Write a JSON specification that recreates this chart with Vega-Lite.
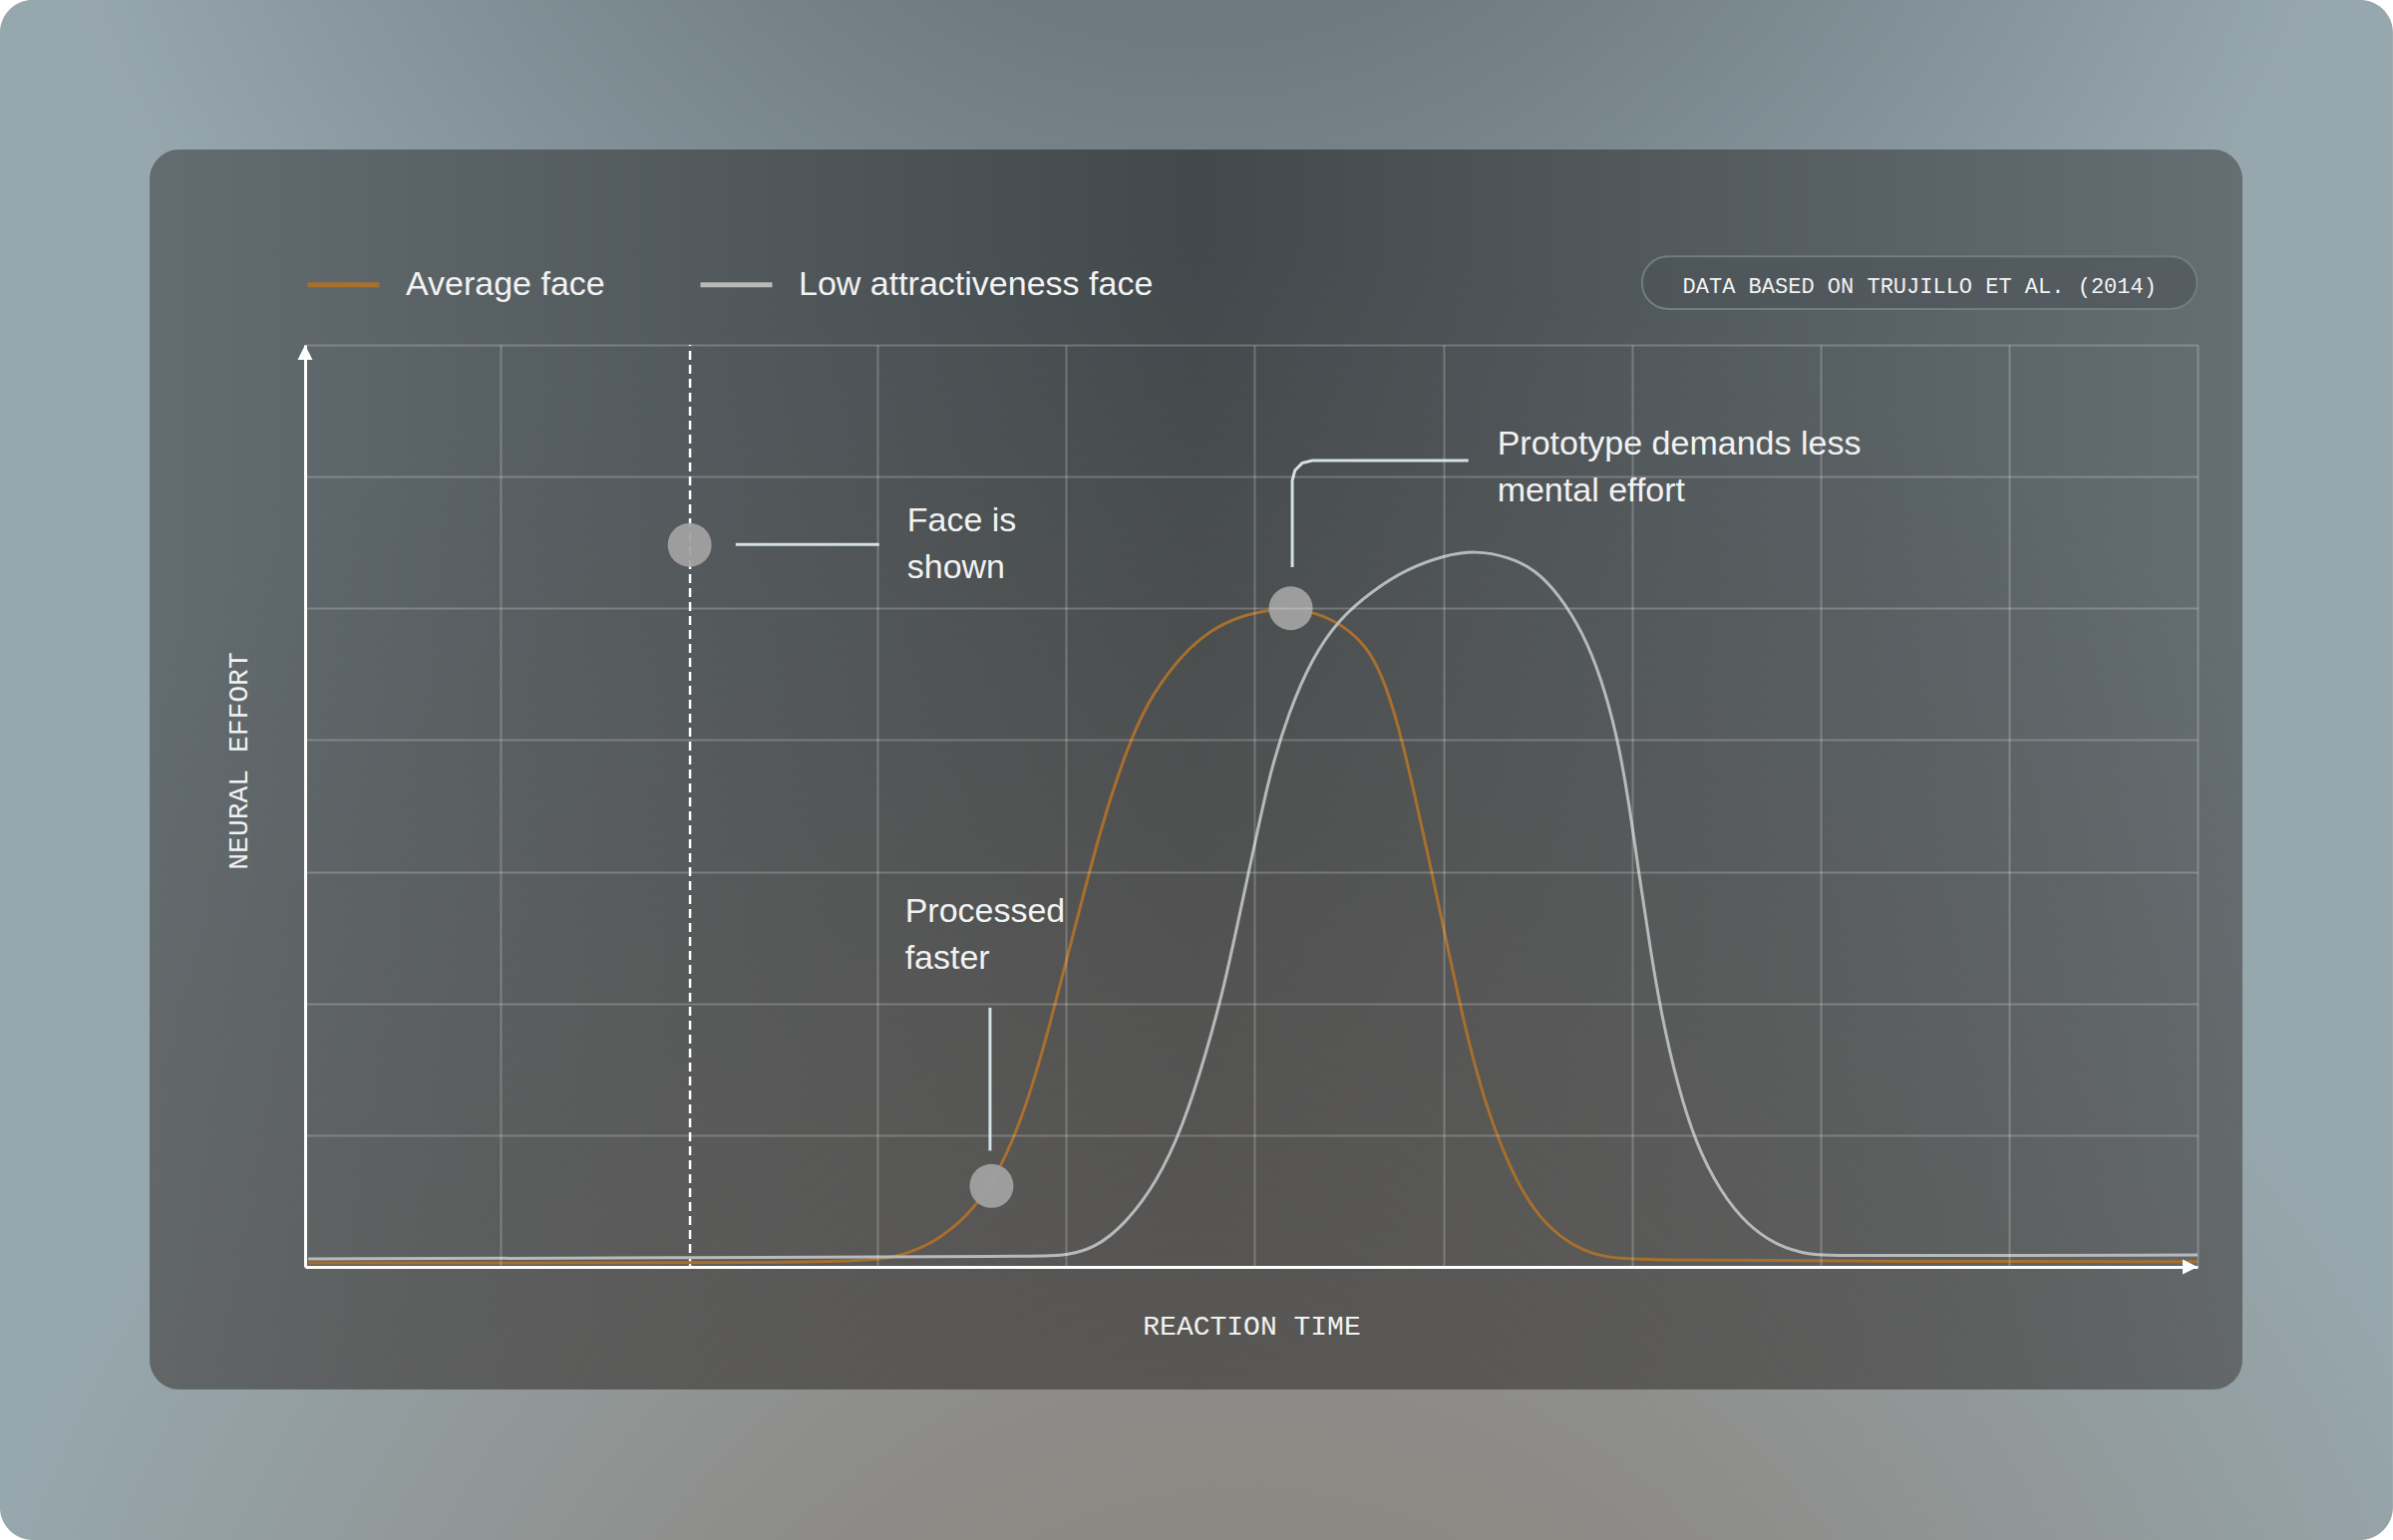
{
  "$schema": "https://vega.github.io/schema/vega-lite/v6.json",
  "width": 1898,
  "height": 925,
  "autosize": "none",
  "padding": {"left": 306, "top": 346, "right": 196, "bottom": 274},
  "background": "#ffffff",
  "datasets": {
    "curves": [
      {"series": "Average face", "x": -0.02, "y": 0.03},
      {"series": "Average face", "x": 1.0, "y": 0.03},
      {"series": "Average face", "x": 2.0, "y": 0.03},
      {"series": "Average face", "x": 2.9, "y": 0.04},
      {"series": "Average face", "x": 3.1, "y": 0.07},
      {"series": "Average face", "x": 3.3, "y": 0.18},
      {"series": "Average face", "x": 3.48, "y": 0.39},
      {"series": "Average face", "x": 3.6, "y": 0.62},
      {"series": "Average face", "x": 3.71, "y": 0.93},
      {"series": "Average face", "x": 3.81, "y": 1.32},
      {"series": "Average face", "x": 3.91, "y": 1.82},
      {"series": "Average face", "x": 4.0, "y": 2.32},
      {"series": "Average face", "x": 4.09, "y": 2.82},
      {"series": "Average face", "x": 4.19, "y": 3.36},
      {"series": "Average face", "x": 4.31, "y": 3.89},
      {"series": "Average face", "x": 4.43, "y": 4.29},
      {"series": "Average face", "x": 4.58, "y": 4.59},
      {"series": "Average face", "x": 4.72, "y": 4.79},
      {"series": "Average face", "x": 4.88, "y": 4.92},
      {"series": "Average face", "x": 5.04, "y": 4.98},
      {"series": "Average face", "x": 5.18, "y": 5.0},
      {"series": "Average face", "x": 5.32, "y": 4.97},
      {"series": "Average face", "x": 5.46, "y": 4.88},
      {"series": "Average face", "x": 5.59, "y": 4.72},
      {"series": "Average face", "x": 5.68, "y": 4.48},
      {"series": "Average face", "x": 5.76, "y": 4.12},
      {"series": "Average face", "x": 5.84, "y": 3.64},
      {"series": "Average face", "x": 5.92, "y": 3.12},
      {"series": "Average face", "x": 6.0, "y": 2.58},
      {"series": "Average face", "x": 6.09, "y": 1.98},
      {"series": "Average face", "x": 6.17, "y": 1.5},
      {"series": "Average face", "x": 6.27, "y": 1.04},
      {"series": "Average face", "x": 6.39, "y": 0.64},
      {"series": "Average face", "x": 6.51, "y": 0.37},
      {"series": "Average face", "x": 6.66, "y": 0.18},
      {"series": "Average face", "x": 6.82, "y": 0.08},
      {"series": "Average face", "x": 7.0, "y": 0.05},
      {"series": "Average face", "x": 8.5, "y": 0.04},
      {"series": "Average face", "x": 10.0, "y": 0.04},
      {"series": "Low attractiveness face", "x": -0.02, "y": 0.06},
      {"series": "Low attractiveness face", "x": 2.0, "y": 0.07},
      {"series": "Low attractiveness face", "x": 3.9, "y": 0.08},
      {"series": "Low attractiveness face", "x": 4.0, "y": 0.09},
      {"series": "Low attractiveness face", "x": 4.15, "y": 0.14},
      {"series": "Low attractiveness face", "x": 4.31, "y": 0.32},
      {"series": "Low attractiveness face", "x": 4.48, "y": 0.64},
      {"series": "Low attractiveness face", "x": 4.62, "y": 1.07},
      {"series": "Low attractiveness face", "x": 4.74, "y": 1.61},
      {"series": "Low attractiveness face", "x": 4.84, "y": 2.14},
      {"series": "Low attractiveness face", "x": 4.92, "y": 2.68},
      {"series": "Low attractiveness face", "x": 5.0, "y": 3.21},
      {"series": "Low attractiveness face", "x": 5.08, "y": 3.75},
      {"series": "Low attractiveness face", "x": 5.18, "y": 4.21},
      {"series": "Low attractiveness face", "x": 5.3, "y": 4.61},
      {"series": "Low attractiveness face", "x": 5.44, "y": 4.91},
      {"series": "Low attractiveness face", "x": 5.63, "y": 5.14},
      {"series": "Low attractiveness face", "x": 5.81, "y": 5.3},
      {"series": "Low attractiveness face", "x": 6.0, "y": 5.4},
      {"series": "Low attractiveness face", "x": 6.17, "y": 5.44},
      {"series": "Low attractiveness face", "x": 6.35, "y": 5.39},
      {"series": "Low attractiveness face", "x": 6.49, "y": 5.29},
      {"series": "Low attractiveness face", "x": 6.61, "y": 5.11},
      {"series": "Low attractiveness face", "x": 6.74, "y": 4.82},
      {"series": "Low attractiveness face", "x": 6.84, "y": 4.46},
      {"series": "Low attractiveness face", "x": 6.92, "y": 4.04},
      {"series": "Low attractiveness face", "x": 6.98, "y": 3.57},
      {"series": "Low attractiveness face", "x": 7.04, "y": 2.96},
      {"series": "Low attractiveness face", "x": 7.1, "y": 2.39},
      {"series": "Low attractiveness face", "x": 7.16, "y": 1.89},
      {"series": "Low attractiveness face", "x": 7.24, "y": 1.39},
      {"series": "Low attractiveness face", "x": 7.34, "y": 0.93},
      {"series": "Low attractiveness face", "x": 7.47, "y": 0.57},
      {"series": "Low attractiveness face", "x": 7.61, "y": 0.32},
      {"series": "Low attractiveness face", "x": 7.77, "y": 0.16},
      {"series": "Low attractiveness face", "x": 7.94, "y": 0.09},
      {"series": "Low attractiveness face", "x": 8.1, "y": 0.085},
      {"series": "Low attractiveness face", "x": 10.0, "y": 0.09}
    ],
    "markers": [
      {"label": "Face is shown", "x": 2.003, "y": 5.481},
      {"label": "Processed faster", "x": 3.604, "y": 0.614},
      {"label": "Prototype demands less mental effort", "x": 5.191, "y": 5.0}
    ],
    "connectors": [
      {"id": "face", "o": 1, "x": 2.247, "y": 5.485},
      {"id": "face", "o": 2, "x": 3.008, "y": 5.485},
      {"id": "fast", "o": 1, "x": 3.596, "y": 1.968},
      {"id": "fast", "o": 2, "x": 3.596, "y": 0.882},
      {"id": "proto", "o": 1, "x": 5.199, "y": 5.313},
      {"id": "proto", "o": 2, "x": 5.199, "y": 5.971},
      {"id": "proto", "o": 3, "x": 5.213, "y": 6.047},
      {"id": "proto", "o": 4, "x": 5.251, "y": 6.102},
      {"id": "proto", "o": 5, "x": 5.305, "y": 6.122},
      {"id": "proto", "o": 6, "x": 6.133, "y": 6.122}
    ],
    "notes": [
      {"x": 3.156, "y": 5.583, "text": ["Face is", "shown"]},
      {"x": 3.145, "y": 2.62, "text": ["Processed", "faster"]},
      {"x": 6.286, "y": 6.168, "text": ["Prototype demands less", "mental effort"]}
    ],
    "source": [
      {"x": 8.526, "y": 7.394, "text": "DATA BASED ON TRUJILLO ET AL. (2014)"}
    ]
  },
  "data": {"values": [{}]},
  "layer": [
    {
      "mark": {"type": "rect", "cornerRadius": 33, "fill": "#96a7ad"},
      "encoding": {
        "x": {"datum": -1.655},
        "x2": {"datum": 11.036},
        "y": {"datum": 9.619},
        "y2": {"datum": -2.074}
      }
    },
    {
      "mark": {
        "type": "rect",
        "cornerRadius": 33,
        "fill": {
          "gradient": "radial",
          "x1": 0.52, "y1": 1.0, "r1": 0,
          "x2": 0.52, "y2": 1.0, "r2": 0.55,
          "stops": [
            {"offset": 0, "color": "rgba(138,130,123,1)"},
            {"offset": 0.45, "color": "rgba(138,130,123,0.75)"},
            {"offset": 1, "color": "rgba(138,130,123,0)"}
          ]
        }
      },
      "encoding": {
        "x": {"datum": -1.655},
        "x2": {"datum": 11.036},
        "y": {"datum": 9.619},
        "y2": {"datum": -2.074}
      }
    },
    {
      "mark": {
        "type": "rect",
        "cornerRadius": 33,
        "fill": {
          "gradient": "radial",
          "x1": 0.5, "y1": 0.0, "r1": 0,
          "x2": 0.5, "y2": 0.0, "r2": 0.5,
          "stops": [
            {"offset": 0, "color": "rgba(96,107,113,1)"},
            {"offset": 0.4, "color": "rgba(100,112,118,0.8)"},
            {"offset": 1, "color": "rgba(100,112,118,0)"}
          ]
        }
      },
      "encoding": {
        "x": {"datum": -1.655},
        "x2": {"datum": 11.036},
        "y": {"datum": 9.619},
        "y2": {"datum": -2.074}
      }
    },
    {
      "mark": {
        "type": "rect",
        "cornerRadius": 30,
        "fill": {
          "gradient": "linear",
          "x1": 0, "y1": 0, "x2": 1, "y2": 0,
          "stops": [
            {"offset": 0, "color": "#636c70"},
            {"offset": 0.5, "color": "#42494c"},
            {"offset": 1, "color": "#656e72"}
          ]
        }
      },
      "encoding": {
        "x": {"datum": -0.861},
        "x2": {"datum": 10.238},
        "y": {"datum": 8.483},
        "y2": {"datum": -0.931}
      }
    },
    {
      "mark": {
        "type": "rect",
        "cornerRadius": 30,
        "fill": {
          "gradient": "radial",
          "x1": 0.5, "y1": 1.0, "r1": 0,
          "x2": 0.5, "y2": 1.0, "r2": 0.75,
          "stops": [
            {"offset": 0, "color": "rgba(95,90,86,1)"},
            {"offset": 0.5, "color": "rgba(95,90,86,0.6)"},
            {"offset": 1, "color": "rgba(95,90,86,0)"}
          ]
        }
      },
      "encoding": {
        "x": {"datum": -0.861},
        "x2": {"datum": 10.238},
        "y": {"datum": 8.483},
        "y2": {"datum": -0.931}
      }
    },
    {
      "mark": {
        "type": "rect",
        "cornerRadius": 26,
        "fill": "#4c5458",
        "fillOpacity": 0.6,
        "stroke": "#737c80",
        "strokeWidth": 2
      },
      "encoding": {
        "x": {"datum": 7.054},
        "x2": {"datum": 9.997},
        "y": {"datum": 7.671},
        "y2": {"datum": 7.273}
      }
    },
    {
      "data": {"name": "source"},
      "mark": {
        "type": "text",
        "font": "Liberation Mono",
        "fontSize": 22,
        "align": "center",
        "baseline": "alphabetic",
        "color": "#f2f2f2"
      },
      "encoding": {
        "x": {"field": "x", "type": "quantitative", "title": "REACTION TIME"},
        "y": {"field": "y", "type": "quantitative", "title": "NEURAL EFFORT"},
        "text": {"field": "text", "type": "nominal"}
      }
    },
    {
      "mark": {
        "type": "rule",
        "color": "#ffffff",
        "strokeWidth": 2.5,
        "strokeDash": [9, 5]
      },
      "encoding": {
        "x": {"datum": 2.005},
        "y": {"datum": 0},
        "y2": {"datum": 7}
      }
    },
    {
      "data": {"name": "connectors"},
      "mark": {"type": "line", "color": "#d3e0e6", "strokeWidth": 3},
      "encoding": {
        "x": {"field": "x", "type": "quantitative", "title": "REACTION TIME"},
        "y": {"field": "y", "type": "quantitative", "title": "NEURAL EFFORT"},
        "detail": {"field": "id", "type": "nominal"},
        "order": {"field": "o", "type": "quantitative"}
      }
    },
    {
      "data": {"name": "curves"},
      "mark": {"type": "line", "strokeWidth": 3, "interpolate": "basis"},
      "encoding": {
        "x": {
          "field": "x",
          "type": "quantitative",
          "title": "REACTION TIME",
          "scale": {"domain": [-0.0364, 10], "nice": false, "zero": false},
          "axis": {
            "zindex": 1,
            "values": [1, 3, 4, 5, 6, 7, 8, 9, 10],
            "titleX": 949,
            "titleY": 67,
            "titleAlign": "center",
            "titleBaseline": "alphabetic"
          }
        },
        "y": {
          "field": "y",
          "type": "quantitative",
          "title": "NEURAL EFFORT",
          "scale": {"domain": [0, 7], "nice": false, "zero": false},
          "axis": {
            "zindex": 1,
            "values": [1, 2, 3, 4, 5, 6, 7],
            "titleX": -59,
            "titleY": 417,
            "titleAngle": 270,
            "titleAlign": "center",
            "titleBaseline": "alphabetic"
          }
        },
        "color": {
          "field": "series",
          "type": "nominal",
          "scale": {
            "domain": ["Average face", "Low attractiveness face"],
            "range": ["#a86f2d", "#b7baba"]
          },
          "legend": {
            "orient": "none",
            "legendX": 0,
            "legendY": -99,
            "direction": "horizontal",
            "title": null,
            "symbolType": "stroke",
            "symbolSize": 5184,
            "symbolStrokeWidth": 5,
            "labelFont": "Liberation Sans",
            "labelFontSize": 34,
            "labelColor": "#f2f2f2",
            "labelOffset": 24,
            "labelLimit": 0,
            "columnPadding": 85,
            "padding": 0
          }
        }
      }
    },
    {
      "data": {"name": "markers"},
      "mark": {
        "type": "point",
        "shape": "circle",
        "filled": true,
        "size": 1936,
        "color": "#a1a2a2",
        "opacity": 0.94,
        "strokeWidth": 0
      },
      "encoding": {
        "x": {"field": "x", "type": "quantitative", "title": "REACTION TIME"},
        "y": {"field": "y", "type": "quantitative", "title": "NEURAL EFFORT"}
      }
    },
    {
      "data": {"name": "notes"},
      "mark": {
        "type": "text",
        "font": "Liberation Sans",
        "fontSize": 34,
        "lineHeight": 47,
        "align": "left",
        "baseline": "alphabetic",
        "color": "#f2f2f2"
      },
      "encoding": {
        "x": {"field": "x", "type": "quantitative", "title": "REACTION TIME"},
        "y": {"field": "y", "type": "quantitative", "title": "NEURAL EFFORT"},
        "text": {"field": "text", "type": "nominal"}
      }
    },
    {
      "mark": {
        "type": "point",
        "shape": "M-2,-1L0,0L-2,1Z",
        "filled": true,
        "size": 225,
        "color": "#ffffff",
        "opacity": 1,
        "strokeWidth": 0
      },
      "encoding": {
        "x": {"datum": 10},
        "y": {"datum": 0}
      }
    },
    {
      "mark": {
        "type": "point",
        "shape": "M-1,2L0,0L1,2Z",
        "filled": true,
        "size": 225,
        "color": "#ffffff",
        "opacity": 1,
        "strokeWidth": 0
      },
      "encoding": {
        "x": {"datum": -0.0364},
        "y": {"datum": 7}
      }
    }
  ],
  "config": {
    "view": {"stroke": null},
    "axis": {
      "labels": false,
      "ticks": false,
      "grid": true,
      "gridColor": "#ffffff",
      "gridOpacity": 0.22,
      "gridWidth": 2,
      "domain": true,
      "domainColor": "#ffffff",
      "domainWidth": 3,
      "titleFont": "Liberation Mono",
      "titleFontSize": 28,
      "titleFontWeight": "normal",
      "titleColor": "#f2f2f2"
    }
  }
}
